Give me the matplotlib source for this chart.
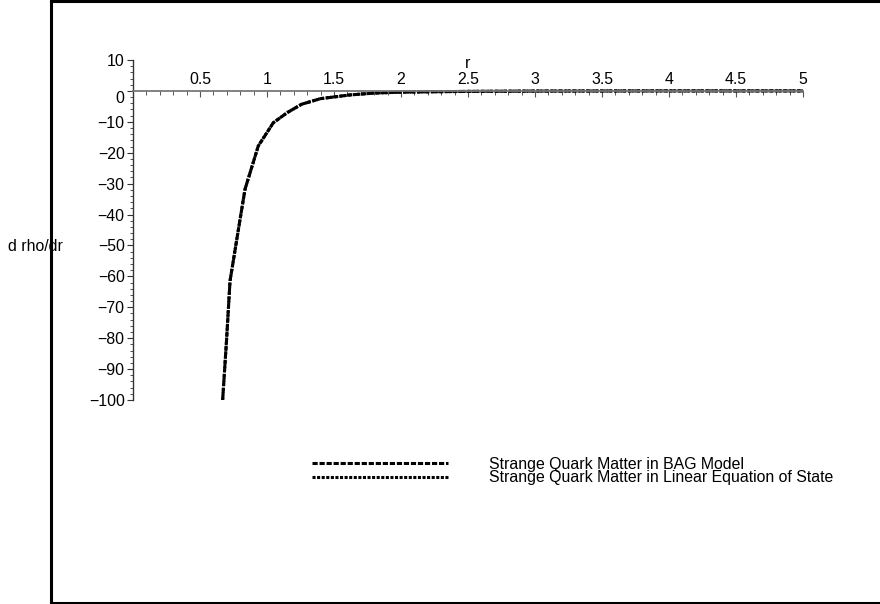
import matplotlib
matplotlib.use("Agg")
import matplotlib.pyplot as plt
from matplotlib.ticker import MultipleLocator, FixedLocator, FuncFormatter
from matplotlib.lines import Line2D
import matplotlib.transforms as mtransforms

plt.rcParams['font.family'] = ['Liberation Sans', 'DejaVu Sans']

# Data
r_bag = [0.669, 0.699, 0.724, 0.786, 0.836, 0.935, 1.047, 1.152, 1.259, 1.40, 1.62, 1.80, 2.0, 2.5, 3.0, 4.0, 5.0]
drho_bag = [-100.0, -80.0, -61.5, -45.0, -31.8, -17.8, -10.3, -7.0, -4.3, -2.5, -1.3, -0.7, -0.4, -0.15, -0.05, 0.0, 0.0]
r_lin = [0.669, 0.699, 0.724, 0.786, 0.836, 0.935, 1.047, 1.152, 1.259, 1.40, 1.62, 1.80, 2.0, 2.5, 3.0, 4.0, 5.0]
drho_lin = [-100.0, -80.0, -61.5, -45.0, -31.8, -17.8, -10.3, -7.0, -4.3, -2.5, -1.3, -0.7, -0.4, -0.15, -0.05, 0.0, 0.0]
labels = ["Strange Quark Matter in BAG Model", "Strange Quark Matter in Linear Equation of State"]
x_ticks = [0.5, 1, 1.5, 2, 2.5, 3, 3.5, 4, 4.5, 5]
y_ticks = [10, 0, -10, -20, -30, -40, -50, -60, -70, -80, -90, -100]

W, H = 880, 604
FS = 11.4
fig = plt.figure(figsize=(W / 100, H / 100), dpi=100)

# axes: x 0->133px, 5->803px ; y 10->60px, -100->400px
ax = fig.add_axes([133 / W, 1 - 400 / H, 670 / W, 340 / H])
ax.set_xlim(0, 5)
ax.set_ylim(-100, 10)
ax.patch.set_visible(False)

l1, = ax.plot(r_bag, drho_bag, color='black', lw=2.2, linestyle=(0, (1.7, 0.6)))
l2, = ax.plot(r_lin, drho_lin, color='black', lw=2.2, linestyle=(0, (1.0, 0.5)))

for s in ['right', 'bottom']:
    ax.spines[s].set_visible(False)
ax.spines['top'].set_position(('data', 0))
ax.spines['top'].set_color('#777777')
ax.spines['top'].set_linewidth(1.3)
ax.spines['left'].set_color('#333333')
ax.spines['left'].set_linewidth(1.0)

ax.xaxis.set_major_locator(FixedLocator(x_ticks))
ax.xaxis.set_minor_locator(MultipleLocator(0.1))
ax.xaxis.set_major_formatter(FuncFormatter(lambda v, p: f"{v:g}"))
ax.tick_params(axis='x', which='both', top=True, bottom=False, labeltop=True,
               labelbottom=False, direction='in', color='#555555', labelsize=FS, pad=3)
ax.tick_params(axis='x', which='major', length=4, width=0.8)
ax.tick_params(axis='x', which='minor', length=3, width=0.7)

ax.yaxis.set_major_locator(FixedLocator(y_ticks))
ax.yaxis.set_minor_locator(MultipleLocator(2))
ax.tick_params(axis='y', which='both', direction='out', color='#333333', labelsize=FS, pad=2)
ax.tick_params(axis='y', which='major', length=4, width=0.8)
ax.tick_params(axis='y', which='minor', length=2, width=0.6)

ax.set_xlabel('r', fontsize=FS)
ax.xaxis.set_label_position('top')
ax.xaxis.set_label_coords(468 / W, 1 - 64 / H, transform=fig.transFigure)
ax.xaxis.label.set_va('center')

ax.set_ylabel('d rho/dr', rotation=0, fontsize=FS, ha='left', va='center')
ax.yaxis.set_label_coords(8 / W, 1 - 247 / H, transform=fig.transFigure)

leg = ax.legend([l1, l2], labels, loc='upper left',
                bbox_to_anchor=(312 / W, 1 - 457 / H), bbox_transform=fig.transFigure,
                frameon=False, fontsize=FS, handlelength=8.6, handletextpad=2.6,
                labelspacing=-0.1, borderpad=0, borderaxespad=0)

# outer frame
frame_kw = dict(color='black', lw=2.2, transform=fig.transFigure, solid_capstyle='projecting')
fig.add_artist(Line2D([51 / W, 51 / W], [0.5 / H, 1 - 1 / H], **frame_kw))
fig.add_artist(Line2D([51 / W, 1.0], [1 - 1 / H, 1 - 1 / H], **frame_kw))
fig.add_artist(Line2D([51 / W, 1.0], [1.5 / H, 1.5 / H], **frame_kw))

# shift the "0" y tick label slightly down (as in reference)
fig.canvas.draw()
for t in ax.yaxis.get_major_ticks():
    if abs(t.get_loc()) < 1e-9:
        off = mtransforms.ScaledTranslation(0, -6 / 100, fig.dpi_scale_trans)
        t.label1.set_transform(t.label1.get_transform() + off)

fig.savefig('out.png', dpi=100)
